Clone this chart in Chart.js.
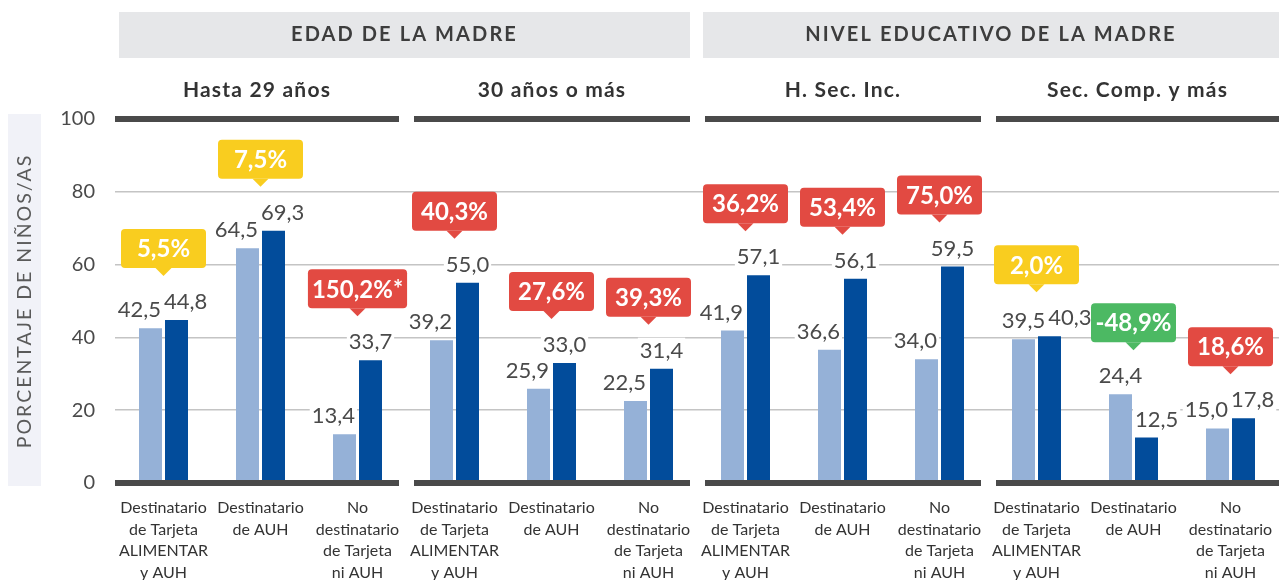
<!DOCTYPE html>
<html><head><meta charset="utf-8">
<script src="https://cdn.jsdelivr.net/npm/chart.js@4"></script>
<style>html,body{margin:0;padding:0;background:#fff}#wrap{width:1279px;height:580px}</style>
</head><body><div id="wrap"><canvas id="c" width="1279" height="580"></canvas></div>
<script>
const categories = [
  ["Destinatario","de Tarjeta","ALIMENTAR","y AUH"],["Destinatario","de AUH"],["No","destinatario","de Tarjeta","ni AUH"],
  ["Destinatario","de Tarjeta","ALIMENTAR","y AUH"],["Destinatario","de AUH"],["No","destinatario","de Tarjeta","ni AUH"],
  ["Destinatario","de Tarjeta","ALIMENTAR","y AUH"],["Destinatario","de AUH"],["No","destinatario","de Tarjeta","ni AUH"],
  ["Destinatario","de Tarjeta","ALIMENTAR","y AUH"],["Destinatario","de AUH"],["No","destinatario","de Tarjeta","ni AUH"]
];
const seriesA = [42.5,64.5,13.4,39.2,25.9,22.5,41.9,36.6,34.0,39.5,24.4,15.0];
const seriesB = [44.8,69.3,33.7,55.0,33.0,31.4,57.1,56.1,59.5,40.3,12.5,17.8];
const badgeText = ["5,5%","7,5%","150,2%*","40,3%","27,6%","39,3%","36,2%","53,4%","75,0%","2,0%","-48,9%","18,6%"];
const badgeKind = ["y","y","r","r","r","r","r","r","r","y","g","r"];
const groupTitles = ["Hasta 29 años","30 años o más","H. Sec. Inc.","Sec. Comp. y más"];
const headerTitles = ["EDAD DE LA MADRE","NIVEL EDUCATIVO DE LA MADRE"];
const yTitle = "PORCENTAJE DE NIÑOS/AS";
const yTicks = [0,20,40,60,80,100];

const FONT = "Lato, 'Open Sans', sans-serif";
const kindColor = {y:"#f9cd1f", r:"#e24a42", g:"#4cb963"};
const fmt = v => v.toFixed(1).replace('.', ',');

function rr(ctx,x,y,w,h,r){ctx.beginPath();ctx.moveTo(x+r,y);ctx.lineTo(x+w-r,y);ctx.quadraticCurveTo(x+w,y,x+w,y+r);ctx.lineTo(x+w,y+h-r);ctx.quadraticCurveTo(x+w,y+h,x+w-r,y+h);ctx.lineTo(x+r,y+h);ctx.quadraticCurveTo(x,y+h,x,y+h-r);ctx.lineTo(x,y+r);ctx.quadraticCurveTo(x,y,x+r,y);ctx.closePath();}

function segments(chart){
  const xs = chart.scales.x, w = (xs.right - xs.left)/12, segs=[];
  for(let g=0;g<4;g++){
    const a = xs.left + g*3*w, b = a + 3*w;
    segs.push([a + (g>0?8:0), b - (g<3?7:0)]);
  }
  return segs;
}

const deco = {
  id:'deco',
  beforeDraw(chart){
    const ctx = chart.ctx, ca = chart.chartArea;
    ctx.save();
    ctx.fillStyle = "#f1f2f8";
    ctx.fillRect(8, ca.top-5, 33, ca.bottom - ca.top + 8);
    ctx.translate(25, (ca.top+ca.bottom)/2);
    ctx.rotate(-Math.PI/2);
    ctx.font = "19.5px " + FONT;
    ctx.letterSpacing = "2px";
    ctx.fillStyle = "#5a5a5a";
    ctx.textAlign = "center"; ctx.textBaseline = "middle";
    ctx.fillText(yTitle, 0, 0);
    ctx.restore();

    const segs = segments(chart);
    ctx.save();
    const bands = [[segs[0][0]+4, segs[1][1]],[segs[2][0]-2, segs[3][1]]];
    bands.forEach((b,i)=>{
      ctx.fillStyle = "#e6e7e9";
      ctx.fillRect(b[0], 12, b[1]-b[0], 46);
      ctx.fillStyle = "#3d3d3d";
      ctx.font = "bold 20px " + FONT;
      ctx.letterSpacing = "2.1px";
      ctx.textAlign = "center"; ctx.textBaseline = "middle";
      ctx.fillText(headerTitles[i], (b[0]+b[1])/2, 35);
    });
    segs.forEach((s,i)=>{
      ctx.fillStyle = "#333";
      ctx.font = "bold 21px " + FONT;
      ctx.letterSpacing = "1.2px";
      ctx.textAlign = "center"; ctx.textBaseline = "middle";
      ctx.fillText(groupTitles[i], (s[0]+s[1])/2, 90);
    });
    ctx.restore();
  },
  afterDatasetsDraw(chart){
    const ctx = chart.ctx, ys = chart.scales.y;
    const segs = segments(chart);
    ctx.save();
    ctx.fillStyle = "#4a4a4a";
    [0,100].forEach(v=>{
      const py = ys.getPixelForValue(v);
      segs.forEach(s=>ctx.fillRect(s[0], py-3, s[1]-s[0], 6));
    });
    const mA = chart.getDatasetMeta(0).data, mB = chart.getDatasetMeta(1).data;
    const LF = "22px " + FONT, BF = "bold 24px " + FONT;
    ctx.textAlign = "center"; ctx.textBaseline = "middle";
    const badges = [];
    for(let i=0;i<seriesA.length;i++){
      ctx.font = LF;
      const L = mA[i], D = mB[i];
      const tA = fmt(seriesA[i]), tB = fmt(seriesB[i]);
      const wA = ctx.measureText(tA).width, wB = ctx.measureText(tB).width;
      let lx = L.x, ly = L.y - 19;
      const dLeft = D.x - D.width/2, lRight = L.x + L.width/2;
      if (D.y < ly + 11 && lx + wA/2 > dLeft - 4) lx = dLeft - 4 - wA/2;
      let dx = D.x, dy = D.y - 19;
      if (L.y < dy + 11 && dx - wB/2 < lRight + 3) dx = lRight + 3 + wB/2;
      if (Math.abs(dy-ly) < 22 && dx - wB/2 < lx + wA/2 + 3) dx = lx + wA/2 + 3 + wB/2;
      [[tA,lx,ly,wA],[tB,dx,dy,wB]].forEach(([t,x,y,w])=>{
        ctx.fillStyle = "#fff";
        ctx.fillRect(x - w/2 - 2, y - 12, w + 4, 24);
        ctx.fillStyle = "#4a4a4a";
        ctx.fillText(t, x, y + 1);
      });
      badges.push([i, (L.x + D.x)/2, Math.min(L.y, D.y) - 44]);
    }
    badges.forEach(([i, tipX, tipY])=>{
      ctx.font = BF;
      const bw = Math.max(85, ctx.measureText(badgeText[i]).width + 8), bh = 39;
      const bx = tipX - bw/2, by = tipY - 8 - bh;
      ctx.fillStyle = kindColor[badgeKind[i]];
      rr(ctx, bx, by, bw, bh, 4); ctx.fill();
      ctx.beginPath(); ctx.moveTo(tipX-8, by+bh); ctx.lineTo(tipX+8, by+bh); ctx.lineTo(tipX, tipY); ctx.closePath(); ctx.fill();
      ctx.fillStyle = "#fff";
      ctx.fillText(badgeText[i], tipX, by + bh/2 + 1);
    });
    ctx.restore();
  }
};

new Chart(document.getElementById('c'), {
  type:'bar',
  data:{ labels: categories, datasets:[
    {data: seriesA, backgroundColor:"#95b1d7", categoryPercentage: 52/97, barPercentage: 23/26},
    {data: seriesB, backgroundColor:"#024c9b", categoryPercentage: 52/97, barPercentage: 23/26}
  ]},
  options:{
    responsive:false, animation:false, devicePixelRatio:1,
    layout:{padding:{top:119,left:0,right:0,bottom:0}},
    plugins:{legend:{display:false}, tooltip:{enabled:false}},
    scales:{
      x:{
        grid:{display:false, drawTicks:false}, border:{display:false},
        ticks:{color:"#333", font:{family:FONT, size:16, lineHeight:1.35}, padding:14, maxRotation:0, autoSkip:false},
        afterFit(s){ s.height = 97; s.paddingLeft = 0; s.paddingRight = 0; }
      },
      y:{
        min:0, max:100,
        afterBuildTicks(s){ s.ticks = yTicks.map(v=>({value:v})); },
        grid:{drawTicks:false, color: c => (c.tick && (c.tick.value===0 || c.tick.value===100)) ? 'rgba(0,0,0,0)' : '#c4c4c4', lineWidth:1.5},
        border:{display:false},
        ticks:{color:"#4a4a4a", font:{family:FONT, size:20}, padding:20},
        afterFit(s){ s.width = 115; }
      }
    }
  },
  plugins:[deco]
});
</script></body></html>
